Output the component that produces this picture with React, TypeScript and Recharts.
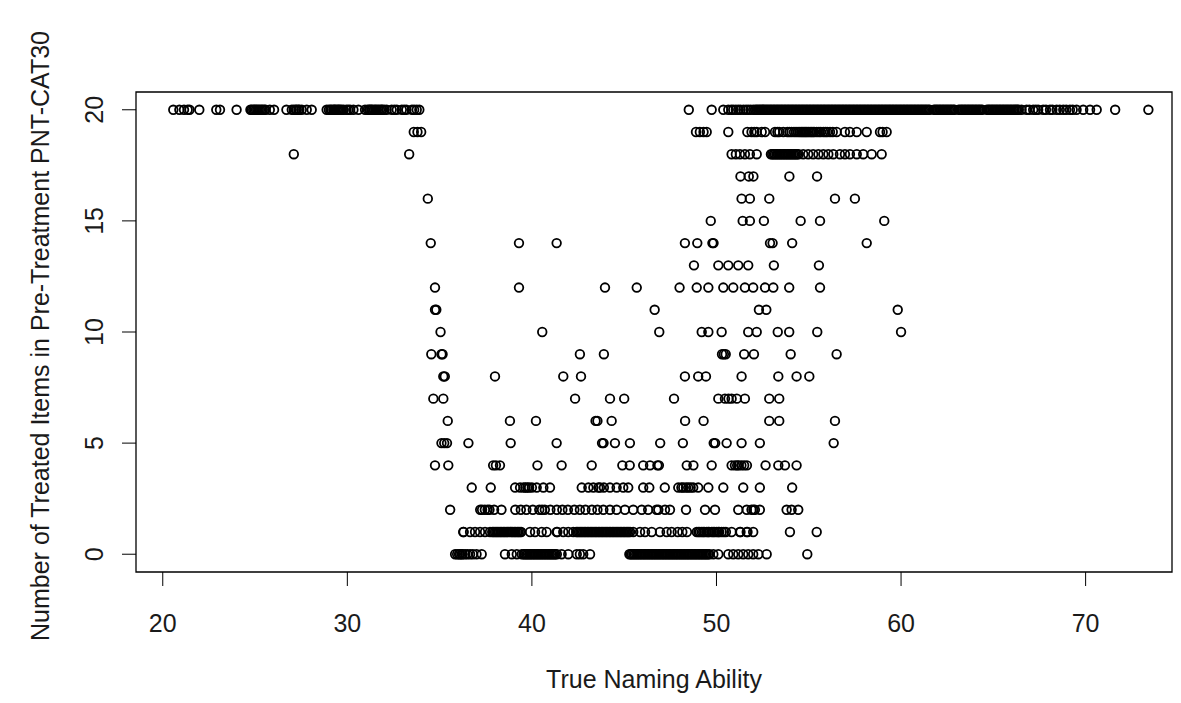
import { ReferenceArea, Scatter, ScatterChart, XAxis, YAxis } from "recharts";

// x values (True Naming Ability) of the points on each score row
const row0 = [
  35.84, 35.95, 36.05, 36.11, 36.2, 36.25, 36.38, 36.5, 36.65, 36.8, 37.0, 37.28, 38.54, 38.91,
  39.18, 39.45, 39.55, 39.62, 39.7, 39.77, 39.85, 39.92, 40.0, 40.07, 40.15, 40.22, 40.3, 40.37,
  40.45, 40.52, 40.6, 40.67, 40.75, 40.82, 40.9, 40.97, 41.05, 41.12, 41.2, 41.27, 41.35, 41.61,
  41.97, 42.43, 42.6, 42.78, 43.15, 45.28, 45.35, 45.42, 45.5, 45.57, 45.65, 45.72, 45.8, 45.87,
  45.95, 46.02, 46.1, 46.17, 46.25, 46.32, 46.4, 46.47, 46.55, 46.62, 46.7, 46.77, 46.85, 46.92,
  47.0, 47.07, 47.15, 47.22, 47.3, 47.37, 47.45, 47.52, 47.6, 47.67, 47.75, 47.82, 47.9, 47.97,
  48.05, 48.12, 48.2, 48.27, 48.35, 48.42, 48.5, 48.57, 48.65, 48.72, 48.8, 48.87, 48.95, 49.02,
  49.1, 49.17, 49.25, 49.32, 49.4, 49.47, 49.55, 49.62, 49.83, 50.1, 50.64, 50.91, 51.18, 51.45,
  51.72, 51.99, 52.27, 52.72, 54.92,
];
const row1 = [
  36.28, 36.3, 36.65, 36.92, 37.19, 37.46, 37.73, 37.85, 37.92, 38.0, 38.07, 38.15, 38.22, 38.3,
  38.37, 38.45, 38.52, 38.6, 38.67, 38.75, 38.82, 38.9, 38.97, 39.05, 39.12, 39.2, 39.27, 39.35,
  39.42, 39.9, 40.17, 40.53, 40.8, 41.34, 41.38, 41.7, 41.97, 42.24, 42.4, 42.47, 42.55, 42.62,
  42.7, 42.77, 42.85, 42.92, 43.0, 43.07, 43.15, 43.22, 43.3, 43.37, 43.45, 43.52, 43.6, 43.67,
  43.75, 43.82, 43.9, 43.97, 44.05, 44.12, 44.2, 44.27, 44.35, 44.42, 44.5, 44.57, 44.65, 44.72,
  44.8, 44.87, 44.95, 45.02, 45.1, 45.17, 45.25, 45.32, 45.49, 45.86, 46.13, 46.49, 46.94, 47.3,
  47.57, 47.9, 48.15, 48.4, 48.93, 49.02, 49.1, 49.2, 49.28, 49.35, 49.47, 49.55, 49.6, 49.74,
  49.82, 49.9, 50.01, 50.1, 50.15, 50.28, 50.4, 50.51, 50.82, 51.27, 51.3, 51.64, 51.68, 51.99,
  53.98, 55.43,
];
const row2 = [
  35.57, 37.2, 37.3, 37.45, 37.6, 37.7, 37.95, 38.35, 39.1, 39.4, 39.7, 40.05, 40.4, 40.55, 40.7,
  41.0, 41.35, 41.65, 41.95, 42.3, 42.6, 42.9, 43.25, 43.55, 43.87, 44.23, 44.59, 45.04, 45.49,
  45.95, 46.3, 46.75, 46.85, 47.21, 47.48, 48.35, 49.38, 49.92, 51.18, 51.64, 51.9, 52.0, 52.08,
  52.35, 53.8, 54.07, 54.43,
];
const row3 = [
  36.74, 37.77, 39.09, 39.36, 39.55, 39.65, 39.75, 39.85, 40.0, 40.26, 40.62, 40.98, 42.7, 43.06,
  43.33, 43.6, 43.69, 43.9, 44.23, 44.59, 44.95, 45.22, 46.03, 46.36, 47.2, 47.93, 48.1, 48.2,
  48.35, 48.47, 48.6, 48.74, 49.01, 49.56, 50.37, 51.45, 52.35, 54.1,
];
const row4 = [
  34.75, 35.47, 37.9, 38.05, 38.27, 40.3, 41.61, 43.24, 44.9, 45.3, 46.03, 46.4, 46.8, 46.88,
  48.39, 48.75, 49.74, 50.82, 51.0, 51.12, 51.2, 51.35, 51.5, 51.65, 52.66, 53.35, 53.71, 54.34,
];
const row5 = [
  35.1, 35.25, 35.4, 36.56, 38.85, 41.34, 43.8, 43.88, 44.5, 45.31, 46.95, 48.18, 49.85, 49.93,
  50.55, 51.36, 52.35, 56.35,
];
const row6 = [35.44, 38.81, 40.22, 43.45, 43.55, 44.32, 48.3, 49.3, 52.86, 53.4, 56.42];
const row7 = [
  34.66, 35.2, 42.34, 44.23, 45.0, 47.7, 50.1, 50.46, 50.65, 50.82, 51.1, 51.54, 52.86, 53.4,
];
const row8 = [35.2, 35.28, 38.0, 41.7, 42.66, 48.29, 49.01, 49.43, 51.36, 53.35, 54.34, 55.03];
const row9 = [34.55, 35.1, 35.16, 42.6, 43.9, 50.3, 50.4, 50.5, 51.5, 52.03, 54.02, 56.51];
const row10 = [35.05, 40.56, 46.9, 49.2, 49.56, 50.28, 51.72, 52.18, 53.32, 53.94, 55.46, 60.0];
const row11 = [34.75, 34.82, 46.65, 52.3, 52.7, 59.82];
const row12 = [
  34.75, 39.3, 43.96, 45.68, 48.0, 48.93, 49.56, 50.37, 50.91, 51.54, 51.99, 52.63, 53.08, 53.94,
  55.61,
];
const row13 = [48.78, 50.1, 50.64, 51.18, 51.72, 53.11, 55.55];
const row14 = [34.52, 39.3, 41.34, 48.29, 48.96, 49.78, 49.84, 52.9, 53.04, 54.1, 58.14];
const row15 = [49.69, 51.42, 51.81, 52.57, 54.56, 55.61, 59.09];
const row16 = [34.36, 51.36, 51.81, 52.86, 56.42, 57.5];
const row17 = [51.3, 51.75, 52.0, 53.95, 55.45];
const row18 = [
  27.1, 33.35, 50.82, 51.05, 51.27, 51.54, 51.81, 52.18, 52.95, 53.02, 53.1, 53.17, 53.25, 53.32,
  53.4, 53.47, 53.55, 53.62, 53.7, 53.77, 53.85, 53.92, 54.0, 54.07, 54.15, 54.22, 54.3, 54.37,
  54.45, 54.7, 54.97, 55.24, 55.52, 55.79, 56.06, 56.33, 56.69, 56.96, 57.23, 57.6, 57.95, 58.41,
  58.95,
];
const row19 = [
  33.6, 33.8, 34.0, 48.89, 49.1, 49.3, 49.47, 50.64, 51.67, 51.9, 52.05, 52.18, 52.45, 52.63, 53.17,
  53.3, 53.4, 53.62, 53.84, 53.95, 54.07, 54.2, 54.31, 54.42, 54.52, 54.6, 54.68, 54.75, 54.83,
  54.9, 54.98, 55.07, 55.15, 55.23, 55.3, 55.43, 55.55, 55.65, 55.79, 55.9, 56.0, 56.15, 56.3,
  56.51, 56.96, 57.23, 57.6, 58.14, 58.86, 59.0, 59.22,
];
const row20 = [
  20.57, 20.9, 21.15, 21.35, 21.45, 21.98, 22.9, 23.1, 24.0, 24.75, 24.82, 24.9, 24.97, 25.05,
  25.12, 25.2, 25.27, 25.35, 25.42, 25.5, 25.57, 25.8, 26.03, 26.7, 26.99, 27.1, 27.2, 27.26, 27.35,
  27.4, 27.53, 27.8, 28.07, 28.88, 29.0, 29.08, 29.15, 29.24, 29.3, 29.35, 29.43, 29.5, 29.55,
  29.62, 29.7, 29.8, 29.95, 30.05, 30.15, 30.33, 30.6, 30.96, 31.1, 31.18, 31.23, 31.3, 31.35,
  31.45, 31.52, 31.6, 31.68, 31.77, 31.85, 31.9, 32.0, 32.13, 32.4, 32.55, 32.68, 32.95, 33.08,
  33.2, 33.5, 33.62, 33.76, 33.9, 48.5, 49.74, 50.37, 50.64, 50.8, 50.91, 51.05, 51.18, 51.3,
  51.46, 51.6, 51.72, 51.85, 51.99, 52.1, 52.18, 52.25, 52.33, 52.4, 52.48, 52.55, 52.63, 52.7,
  52.78, 52.85, 52.93, 53.0, 53.08, 53.15, 53.23, 53.3, 53.38, 53.45, 53.53, 53.6, 53.68, 53.75,
  53.83, 53.9, 53.98, 54.05, 54.13, 54.2, 54.28, 54.35, 54.43, 54.5, 54.58, 54.65, 54.73, 54.8,
  54.88, 54.95, 55.03, 55.1, 55.18, 55.25, 55.33, 55.4, 55.48, 55.55, 55.63, 55.7, 55.78, 55.85,
  55.93, 56.0, 56.08, 56.15, 56.23, 56.3, 56.38, 56.45, 56.53, 56.6, 56.68, 56.75, 56.83, 56.9,
  56.98, 57.05, 57.13, 57.2, 57.28, 57.35, 57.43, 57.5, 57.58, 57.65, 57.73, 57.8, 57.88, 57.95,
  58.03, 58.1, 58.18, 58.25, 58.33, 58.4, 58.48, 58.55, 58.63, 58.7, 58.78, 58.85, 58.93, 59.0,
  59.08, 59.15, 59.23, 59.3, 59.38, 59.45, 59.53, 59.6, 59.68, 59.75, 59.83, 59.9, 59.98, 60.05,
  60.13, 60.2, 60.28, 60.35, 60.43, 60.5, 60.58, 60.65, 60.73, 60.8, 60.88, 60.95, 61.03, 61.1,
  61.18, 61.25, 61.33, 61.4, 61.48, 61.55, 61.78, 61.85, 61.93, 62.0, 62.08, 62.15, 62.23, 62.3,
  62.38, 62.45, 62.53, 62.6, 62.68, 62.75, 62.83, 62.9, 63.12, 63.2, 63.28, 63.35, 63.43, 63.5,
  63.58, 63.65, 63.73, 63.8, 63.88, 63.95, 64.03, 64.1, 64.18, 64.25, 64.33, 64.4, 64.65, 64.73,
  64.8, 64.88, 64.95, 65.03, 65.1, 65.18, 65.25, 65.33, 65.4, 65.48, 65.55, 65.63, 65.7, 65.78,
  65.85, 65.93, 66.0, 66.08, 66.15, 66.23, 66.3, 66.38, 66.53, 66.8, 66.95, 67.16, 67.3, 67.43,
  67.7, 67.85, 68.07, 68.2, 68.43, 68.6, 68.79, 68.95, 69.15, 69.3, 69.51, 69.87, 70.24, 70.6,
  71.6, 73.4,
];

const rows = [
  row0, row1, row2, row3, row4, row5, row6, row7, row8, row9, row10,
  row11, row12, row13, row14, row15, row16, row17, row18, row19, row20,
];

const xTicks = [20, 30, 40, 50, 60, 70];
const yTicks = [0, 5, 10, 15, 20];
const xTitle = "True Naming Ability";
const yTitle = "Number of Treated Items in Pre-Treatment PNT-CAT30";

const points = rows.flatMap((xs, score) => xs.map((ability) => ({ ability, score })));

const font = "'Liberation Sans', Arial, sans-serif";
const ink = "#1a1a1a";
const fontSize = 25;
const X_DOMAIN: [number, number] = [18.55, 74.68];
const Y_DOMAIN: [number, number] = [-0.8, 20.8];

const Ring = (props: any) => (
  <circle cx={props.cx} cy={props.cy} r={4.3} fill="none" stroke="#000" strokeWidth={1.8} />
);

const YTick = (props: any) => {
  const { y, payload } = props;
  return (
    <text
      x={94}
      y={y}
      transform={`rotate(-90 94 ${y})`}
      textAnchor="middle"
      dominantBaseline="central"
      fontSize={fontSize}
      fontFamily={font}
      fill={ink}
    >
      {payload.value}
    </text>
  );
};

export default function App() {
  return (
    <div style={{ position: "relative", width: 1181, height: 703, background: "#fff" }}>
      <style>{"body{margin:0}"}</style>
      <ScatterChart
        width={1181}
        height={703}
        margin={{ top: 92, right: 9, bottom: 71, left: 76 }}
      >
        <XAxis
          type="number"
          dataKey="ability"
          domain={X_DOMAIN}
          ticks={xTicks}
          allowDataOverflow
          axisLine={false}
          tickSize={14}
          tickMargin={28}
          height={60}
          tickLine={{ stroke: "#000" }}
          tick={{ fill: ink, fontSize, fontFamily: font }}
        />
        <YAxis
          type="number"
          dataKey="score"
          domain={Y_DOMAIN}
          ticks={yTicks}
          allowDataOverflow
          axisLine={false}
          tickSize={14}
          width={60}
          tickLine={{ stroke: "#000" }}
          tick={<YTick />}
        />
        <ReferenceArea
          x1={X_DOMAIN[0]}
          x2={X_DOMAIN[1]}
          y1={Y_DOMAIN[0]}
          y2={Y_DOMAIN[1]}
          fill="none"
          stroke="#000"
          strokeWidth={1.3}
          fillOpacity={0}
        />
        <Scatter data={points} shape={Ring} isAnimationActive={false} />
      </ScatterChart>
      <div
        style={{
          position: "absolute",
          left: 654,
          top: 679,
          transform: "translate(-50%, -50%)",
          fontFamily: font,
          fontSize,
          color: ink,
          whiteSpace: "nowrap",
        }}
      >
        {xTitle}
      </div>
      <div
        style={{
          position: "absolute",
          left: 40,
          top: 336,
          transform: "translate(-50%, -50%) rotate(-90deg)",
          fontFamily: font,
          fontSize,
          color: ink,
          whiteSpace: "nowrap",
        }}
      >
        {yTitle}
      </div>
    </div>
  );
}
